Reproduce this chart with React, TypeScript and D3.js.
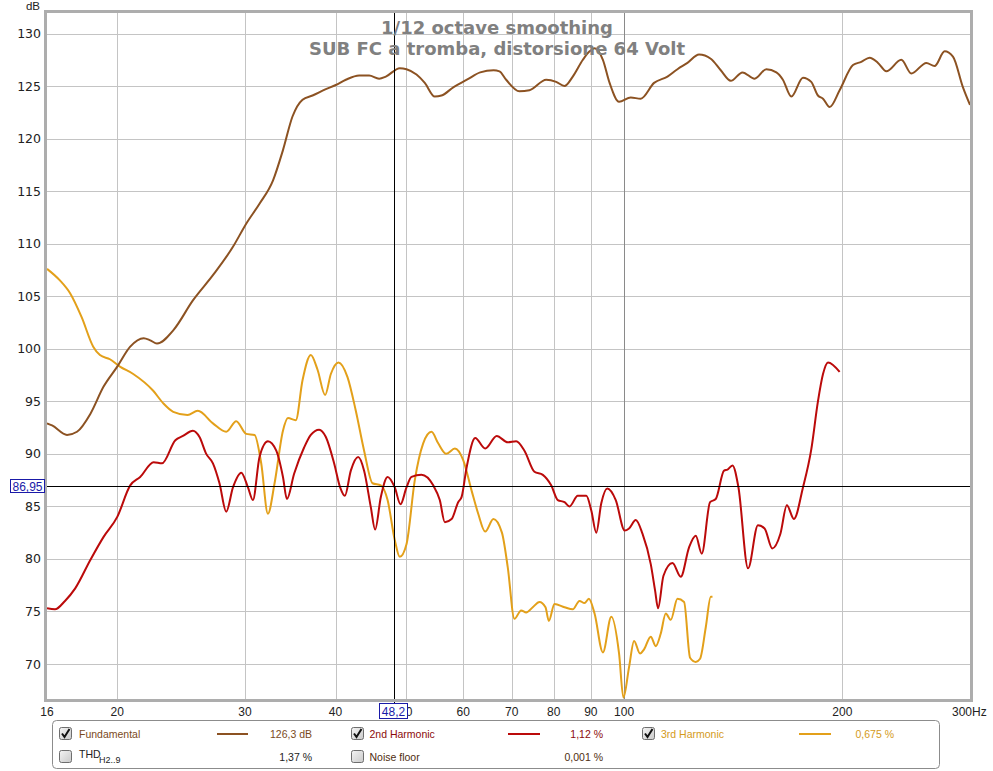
import React from "react";
import * as d3 from "d3";

// ---- data ----
const FUND_FREQ = [16,16.26,17.05,17.6,18.36,19.15,20,20.84,21.75,22.21,22.69,23.92,25.43,27.1,28.88,30.12,31.42,32.79,33.85,34.89,36.02,37.18,38.79,40.04,41.33,43.12,44.51,45.94,46.93,49.05,50.11,51.73,53.11,54.82,56.0,58.2,60.71,63.33,66.08,67.32,68.77,71.73,74.05,78.1,80.61,82.77,84.97,87.74,89.63,91.06,93.5,95.51,98.42,102.15,105.45,110.0,114.78,118.48,122.31,126.9,131.7,135.95,140.34,145.65,151.4,157.1,162.2,165.6,170.1,176.5,181.2,185.1,188.1,192.1,198.3,206.9,212.4,218.1,224.0,230.0,241.2,249.0,261.2,268.1,276.8,284.2,293.3,300];
const FUND_DB = [92.9,92.7,91.8,92.1,93.8,96.4,98.3,100.2,101.0,100.8,100.5,101.8,104.6,107.0,109.7,111.9,113.8,116.0,118.9,122.1,123.7,124.1,124.7,125.1,125.6,126.0,126.0,125.7,125.9,126.7,126.6,126.1,125.3,124.0,124.1,124.9,125.6,126.3,126.5,126.4,125.6,124.5,124.6,125.6,125.4,125.0,125.9,127.5,128.3,128.6,127.5,125.3,123.5,123.9,123.8,125.3,125.9,126.6,127.2,128.0,127.6,126.5,125.5,126.3,125.7,126.6,126.3,125.6,124.0,125.8,125.4,124.1,123.8,123.0,124.6,127.0,127.3,127.7,127.2,126.4,127.5,126.2,127.2,126.9,128.3,127.8,124.9,123.2];

const H2_FREQ = [16,16.41,16.94,17.5,18.36,19.15,20.0,20.84,21.51,22.45,23.05,24.05,24.64,25.43,25.97,26.53,27.1,27.67,28.27,28.88,29.65,30.29,30.77,31.42,32.27,33.14,33.85,34.28,35.07,36.2,36.98,37.97,38.79,39.82,40.59,41.2,41.99,42.98,43.8,44.75,45.36,46.19,47.19,48.28,49.17,50.11,50.91,52.56,54.55,55.7,56.6,57.83,59.05,59.7,60.65,62.33,64.34,66.74,69.12,70.99,72.88,75.23,77.26,79.34,81.02,82.77,84.09,86.33,88.7,90.12,91.55,93.02,94.81,97.4,100.2,101.6,103.79,106.02,108.85,110.35,111.4,113.33,116.62,119.73,122.93,125.57,127.99,131.41,133.8,137.38,138.87,141.1,143.81,148.26,152.98,156.26,160.1,164.3,167.7,171.5,176.5,181.2,185.1,188.1,191.1,198.3];
const H2_DB = [75.3,75.2,76.0,77.2,79.9,82.1,84.0,87.0,87.8,89.2,89.1,91.3,91.7,92.2,91.6,90.0,89.1,87.2,84.5,86.8,88.2,86.8,85.6,89.7,91.2,90.3,87.8,85.7,88.1,90.6,91.8,92.3,91.6,89.1,86.8,86.0,88.4,89.7,88.4,84.9,82.8,85.9,87.8,86.8,85.2,86.8,87.8,88.0,87.0,85.6,83.5,83.8,85.4,85.9,88.7,91.5,90.5,91.7,91.1,91.2,90.3,88.3,88.0,87.0,85.6,85.4,85.0,86.0,86.0,84.6,82.5,85.3,86.7,85.6,82.7,82.9,83.7,82.4,79.5,77.0,75.3,78.4,79.6,78.3,81.1,82.2,80.5,85.4,85.7,88.4,88.5,88.9,86.8,79.1,83.2,82.9,81.0,82.4,85.1,83.8,86.8,90.4,95.0,97.6,98.7,97.8];

const H3_FREQ = [16,16.67,17.21,17.86,18.53,18.93,19.54,20.17,21.04,22.42,23.15,23.89,25.0,25.83,27.1,28.27,29.18,30.12,30.93,31.59,32.27,32.96,33.85,34.39,35.26,36.02,36.98,37.78,38.7,39.41,40.38,41.55,42.66,43.8,44.99,46.19,47.19,48.28,49.05,50.11,51.45,52.84,54.25,55.42,56.85,58.44,60,61.62,62.93,64.34,66.04,67.85,69.12,70.6,72.12,73.28,74.83,76.44,77.92,78.74,80.18,82.77,84.97,86.8,88.19,89.43,91.06,93.5,96.03,98.42,99.8,101.6,103.23,105.21,106.56,108.85,110.59,112.37,114.16,115.99,118.48,121.0,123.32,125.57,127.3,129.63,131.7,132.42];
const H3_DB = [107.6,106.5,105.3,103.0,100.2,99.4,99.0,98.3,97.6,96.0,94.8,94.0,93.7,94.1,92.9,92.1,93.1,91.9,91.8,89.1,84.3,87.2,92.2,93.4,93.2,97.0,99.4,98.0,95.6,97.6,98.7,97.3,94.1,90.3,87.2,87.0,85.6,81.8,80.2,81.4,87.5,91.0,92.1,91.0,90.0,90.5,89.4,86.5,84.3,82.6,83.8,82.5,79.2,74.3,75.1,74.9,75.4,75.9,75.4,74.1,75.7,75.4,75.2,76.0,75.8,76.2,74.8,71.1,74.5,71.0,66.8,69.7,72.2,71.0,71.4,72.6,71.7,72.9,74.8,74.2,76.2,75.9,70.6,70.2,70.5,73.5,76.4,76.4];

const X_TICKS = [16, 20, 30, 40, 50, 60, 70, 80, 90, 100, 200];
const X_GRID = [20, 30, 40, 50, 60, 70, 80, 90, 100, 200];
const Y_TICKS = [70, 75, 80, 85, 90, 95, 100, 105, 110, 115, 120, 125, 130];
const TITLE_LINES = ["1/12 octave smoothing", "SUB FC a tromba, distorsione 64 Volt"];
const CURSOR_F = 48.2;
const CURSOR_DB = 86.95;

const C_FUND = "#8c5222";
const C_H2 = "#bb0a0a";
const C_H3 = "#e3a01a";

const PL = 47, PR = 970, PT = 13, PB = 699;

function Check({ x, y, checked }: { x: number; y: number; checked: boolean }) {
  return (
    <g>
      <rect x={x + 0.5} y={y + 0.5} width={12} height={12} rx={2} fill="url(#cbg)" stroke="#6e6e6e" />
      {checked && (
        <path d={`M${x + 3},${y + 6.5} L${x + 5.5},${y + 10} L${x + 10.5},${y + 2}`} fill="none" stroke="#111" strokeWidth={2} />
      )}
    </g>
  );
}

export default function App() {
  const x = d3.scaleLog().domain([16, 300]).range([PL, PR]);
  const y = d3.scaleLinear().domain([70, 130]).range([664, 33.5]);
  const line = d3
    .line<[number, number]>()
    .x((d) => x(d[0]))
    .y((d) => y(d[1]))
    .curve(d3.curveMonotoneX);
  const mk = (f: number[], v: number[]) => line(f.map((ff, i) => [ff, v[i]] as [number, number])) || "";

  const cx = x(CURSOR_F);
  const cy = y(CURSOR_DB);
  const legendFont = "'Liberation Sans', Arial, sans-serif";

  return (
    <svg width={993} height={771} style={{ position: "absolute", left: 0, top: 0, background: "#fff" }} fontFamily={legendFont}>
      <defs>
        <clipPath id="plot">
          <rect x={PL} y={PT} width={PR - PL} height={PB - PT} />
        </clipPath>
        <linearGradient id="cbg" x1="0" y1="0" x2="1" y2="1">
          <stop offset="0" stopColor="#f4f4f4" />
          <stop offset="1" stopColor="#c9c9c9" />
        </linearGradient>
      </defs>
      <rect x={0} y={0} width={993} height={771} fill="#fff" />

      {/* grid */}
      <g clipPath="url(#plot)">
        {Y_TICKS.map((t) => (
          <line key={"gy" + t} x1={PL} x2={PR} y1={Math.round(y(t)) + 0.5} y2={Math.round(y(t)) + 0.5} stroke="#c4c4c4" />
        ))}
        {X_GRID.map((t) => (
          <line key={"gx" + t} x1={Math.round(x(t)) + 0.5} x2={Math.round(x(t)) + 0.5} y1={PT} y2={PB} stroke={t === 100 ? "#8a8a8a" : "#c4c4c4"} />
        ))}
      </g>

      {/* curves */}
      <g clipPath="url(#plot)" fill="none" strokeWidth={2} strokeLinejoin="round">
        <path d={mk(H3_FREQ, H3_DB)} stroke={C_H3} />
        <path d={mk(H2_FREQ, H2_DB)} stroke={C_H2} />
        <path d={mk(FUND_FREQ, FUND_DB)} stroke={C_FUND} />
      </g>

      {/* cursor */}
      <line x1={PL} x2={PR} y1={Math.round(cy) + 0.5} y2={Math.round(cy) + 0.5} stroke="#000" />
      <line x1={Math.round(cx) + 0.5} x2={Math.round(cx) + 0.5} y1={PT} y2={703} stroke="#000" />

      {/* frame */}
      <rect x={PL - 1.5} y={PT - 1.5} width={PR - PL + 3} height={PB - PT + 3} fill="none" stroke="#adadad" strokeWidth={3} />

      {/* title */}
      <g fontFamily="'DejaVu Sans', Verdana, sans-serif" fontWeight="bold" fontSize={18} fill="#808080" textAnchor="middle">
        <text x={497} y={34}>{TITLE_LINES[0]}</text>
        <text x={497} y={55}>{TITLE_LINES[1]}</text>
      </g>

      {/* y axis */}
      <text x={40} y={10} textAnchor="end" fontSize={11.5} fill="#222">dB</text>
      <g fontFamily="'DejaVu Sans', Verdana, sans-serif" fontSize={12.5} fill="#222" textAnchor="end">
        {Y_TICKS.map((t) => (
          <text key={"ty" + t} x={41} y={y(t) + 4.5}>{t}</text>
        ))}
      </g>

      {/* x axis */}
      <g fontSize={12} fill="#222" textAnchor="middle">
        {X_TICKS.map((t) => (
          <text key={"tx" + t} x={x(t)} y={716}>{t}</text>
        ))}
        <text x={x(300) - 18} y={716} textAnchor="start">300Hz</text>
      </g>

      {/* cursor labels */}
      <rect x={10.5} y={479.5} width={34} height={13} fill="#fff" stroke="#1a1aa8" />
      <text x={27.5} y={490.5} textAnchor="middle" fontSize={12} fill="#1a1aa8">86,95</text>
      <rect x={379.5} y={703.5} width={28} height={15} fill="#fff" stroke="#1a1aa8" />
      <text x={393.5} y={715.5} textAnchor="middle" fontSize={12} fill="#1a1aa8">48,2</text>

      {/* legend */}
      <rect x={52.5} y={720.5} width={887} height={48} rx={4} fill="#fff" stroke="#8c8c8c" />
      <g fontSize={10.5}>
        <Check x={59} y={727} checked={true} />
        <text x={79} y={738} fill="#7a4a1c">Fundamental</text>
        <line x1={217} x2={248} y1={734} y2={734} stroke={C_FUND} strokeWidth={2} />
        <text x={312} y={738} textAnchor="end" fill="#7a4a1c">126,3 dB</text>

        <Check x={351} y={727} checked={true} />
        <text x={369.5} y={738} fill="#8b0a0a">2nd Harmonic</text>
        <line x1={508} x2={540} y1={734} y2={734} stroke={C_H2} strokeWidth={2} />
        <text x={603} y={738} textAnchor="end" fill="#8b0a0a">1,12 %</text>

        <Check x={642} y={727} checked={true} />
        <text x={661} y={738} fill="#d49a1a">3rd Harmonic</text>
        <line x1={799} x2={831} y1={734} y2={734} stroke={C_H3} strokeWidth={2} />
        <text x={894} y={738} textAnchor="end" fill="#d49a1a">0,675 %</text>

        <Check x={59} y={750} checked={false} />
        <text x={79} y={758} fill="#222">THD</text>
        <text x={99} y={763} fontSize={9} fill="#222">H2..9</text>
        <text x={312} y={761} textAnchor="end" fill="#222">1,37 %</text>

        <Check x={351} y={750} checked={false} />
        <text x={369.5} y={761} fill="#4f2d10">Noise floor</text>
        <text x={603} y={761} textAnchor="end" fill="#4f2d10">0,001 %</text>
      </g>
    </svg>
  );
}
